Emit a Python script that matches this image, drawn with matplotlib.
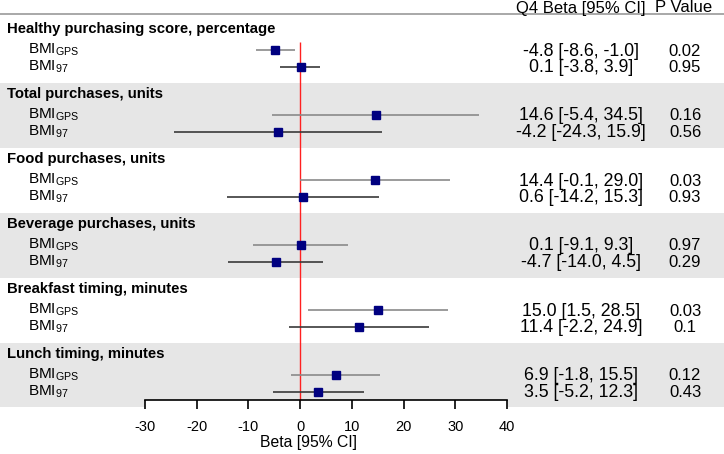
import matplotlib
matplotlib.use("Agg")
import matplotlib.pyplot as plt
from matplotlib.patches import Rectangle
from matplotlib.transforms import blended_transform_factory

plt.rcParams['font.family'] = ['Liberation Sans', 'DejaVu Sans']
plt.rcParams['mathtext.fontset'] = 'custom'
plt.rcParams['mathtext.rm'] = 'Liberation Sans'

# data
groups = ["Healthy purchasing score, percentage", "Total purchases, units",
          "Food purchases, units", "Beverage purchases, units",
          "Breakfast timing, minutes", "Lunch timing, minutes"]
row_labels = [r"BMI$_\mathregular{GPS}$", r"BMI$_\mathregular{97}$"]

gps_est = [-4.8, 14.6, 14.4, 0.1, 15.0, 6.9]
gps_lo = [-8.6, -5.4, -0.1, -9.1, 1.5, -1.8]
gps_hi = [-1.0, 34.5, 29.0, 9.3, 28.5, 15.5]
gps_p = ["0.02", "0.16", "0.03", "0.97", "0.03", "0.12"]

b97_est = [0.1, -4.2, 0.6, -4.7, 11.4, 3.5]
b97_lo = [-3.8, -24.3, -14.2, -14.0, -2.2, -5.2]
b97_hi = [3.9, 15.9, 15.3, 4.5, 24.9, 12.3]
b97_p = ["0.95", "0.56", "0.93", "0.29", "0.1", "0.43"]

xticks = [-30, -20, -10, 0, 10, 20, 30, 40]

W, H = 724, 454
fig = plt.figure(figsize=(W / 100, H / 100), dpi=100)
ax = fig.add_axes([145 / W, 0, 362 / W, 1])
ax.set_xlim(-30, 40)
ax.set_ylim(H, 0)  # y in pixel rows from the top
ax.patch.set_visible(False)
for s in ['top', 'left', 'right']:
    ax.spines[s].set_visible(False)
ax.spines['bottom'].set_position(('data', 400))
ax.spines['bottom'].set_linewidth(1.2)
ax.set_yticks([])
ax.set_xticks(xticks)
ax.set_xticklabels([str(t) for t in xticks], fontsize=10.5)
ax.tick_params(axis='x', direction='out', length=6.5, width=1.2, pad=8)
ax.text(1.6, 443, "Beta [95% CI]", ha='center', va='center', fontsize=11.3)

figx = blended_transform_factory(fig.transFigure, ax.transData)

group_h = 65
top0 = 18
fs = 10.7

# header
ax.plot([0, 1], [14, 14], transform=figx, color='#999999', lw=1.2, clip_on=False)
ax.text(581 / W, 12.5, "Q4 Beta [95% CI]", transform=figx, ha='center', va='baseline', fontsize=12)
ax.text(684 / W, 12.5, "P Value", transform=figx, ha='center', va='baseline', fontsize=12)

for g, name in enumerate(groups):
    top = top0 + g * group_h
    if g % 2 == 1:
        bottom_h = group_h if g < len(groups) - 1 else group_h - 1
        ax.add_patch(Rectangle((0, top), 1, bottom_h, transform=figx, color='#e6e6e6',
                               lw=0, zorder=0, clip_on=False))
    ax.text(7 / W, top + 11, name, transform=figx, ha='left', va='center',
            fontsize=fs, fontweight='bold')
    rows = [(gps_est[g], gps_lo[g], gps_hi[g], gps_p[g], '#8a8a8a'),
            (b97_est[g], b97_lo[g], b97_hi[g], b97_p[g], '#3a3a3a')]
    for r, (est, lo, hi, p, lc) in enumerate(rows):
        y = top + 32 + r * 16.5
        ax.text(28 / W, y, row_labels[r], transform=figx, ha='left', va='center', fontsize=11)
        ax.hlines(y, lo, hi, color=lc, lw=1.2, zorder=3)
        ax.plot(est, y, marker='s', ms=6, color='#000080', zorder=4)
        ax.text(581 / W, y + 1, f"{est:.1f} [{lo:.1f}, {hi:.1f}]", transform=figx,
                ha='center', va='center', fontsize=12.8)
        ax.text(685 / W, y + 1, p, transform=figx, ha='center', va='center', fontsize=12)

# white strip below the axis line inside the axis range
ax.add_patch(Rectangle((-30, 400), 70, 8, color='white', lw=0, zorder=1, clip_on=False))

ax.vlines(0, 42, 400, color='#ff2020', lw=1, zorder=2)

fig.savefig("out.png", dpi=100)
